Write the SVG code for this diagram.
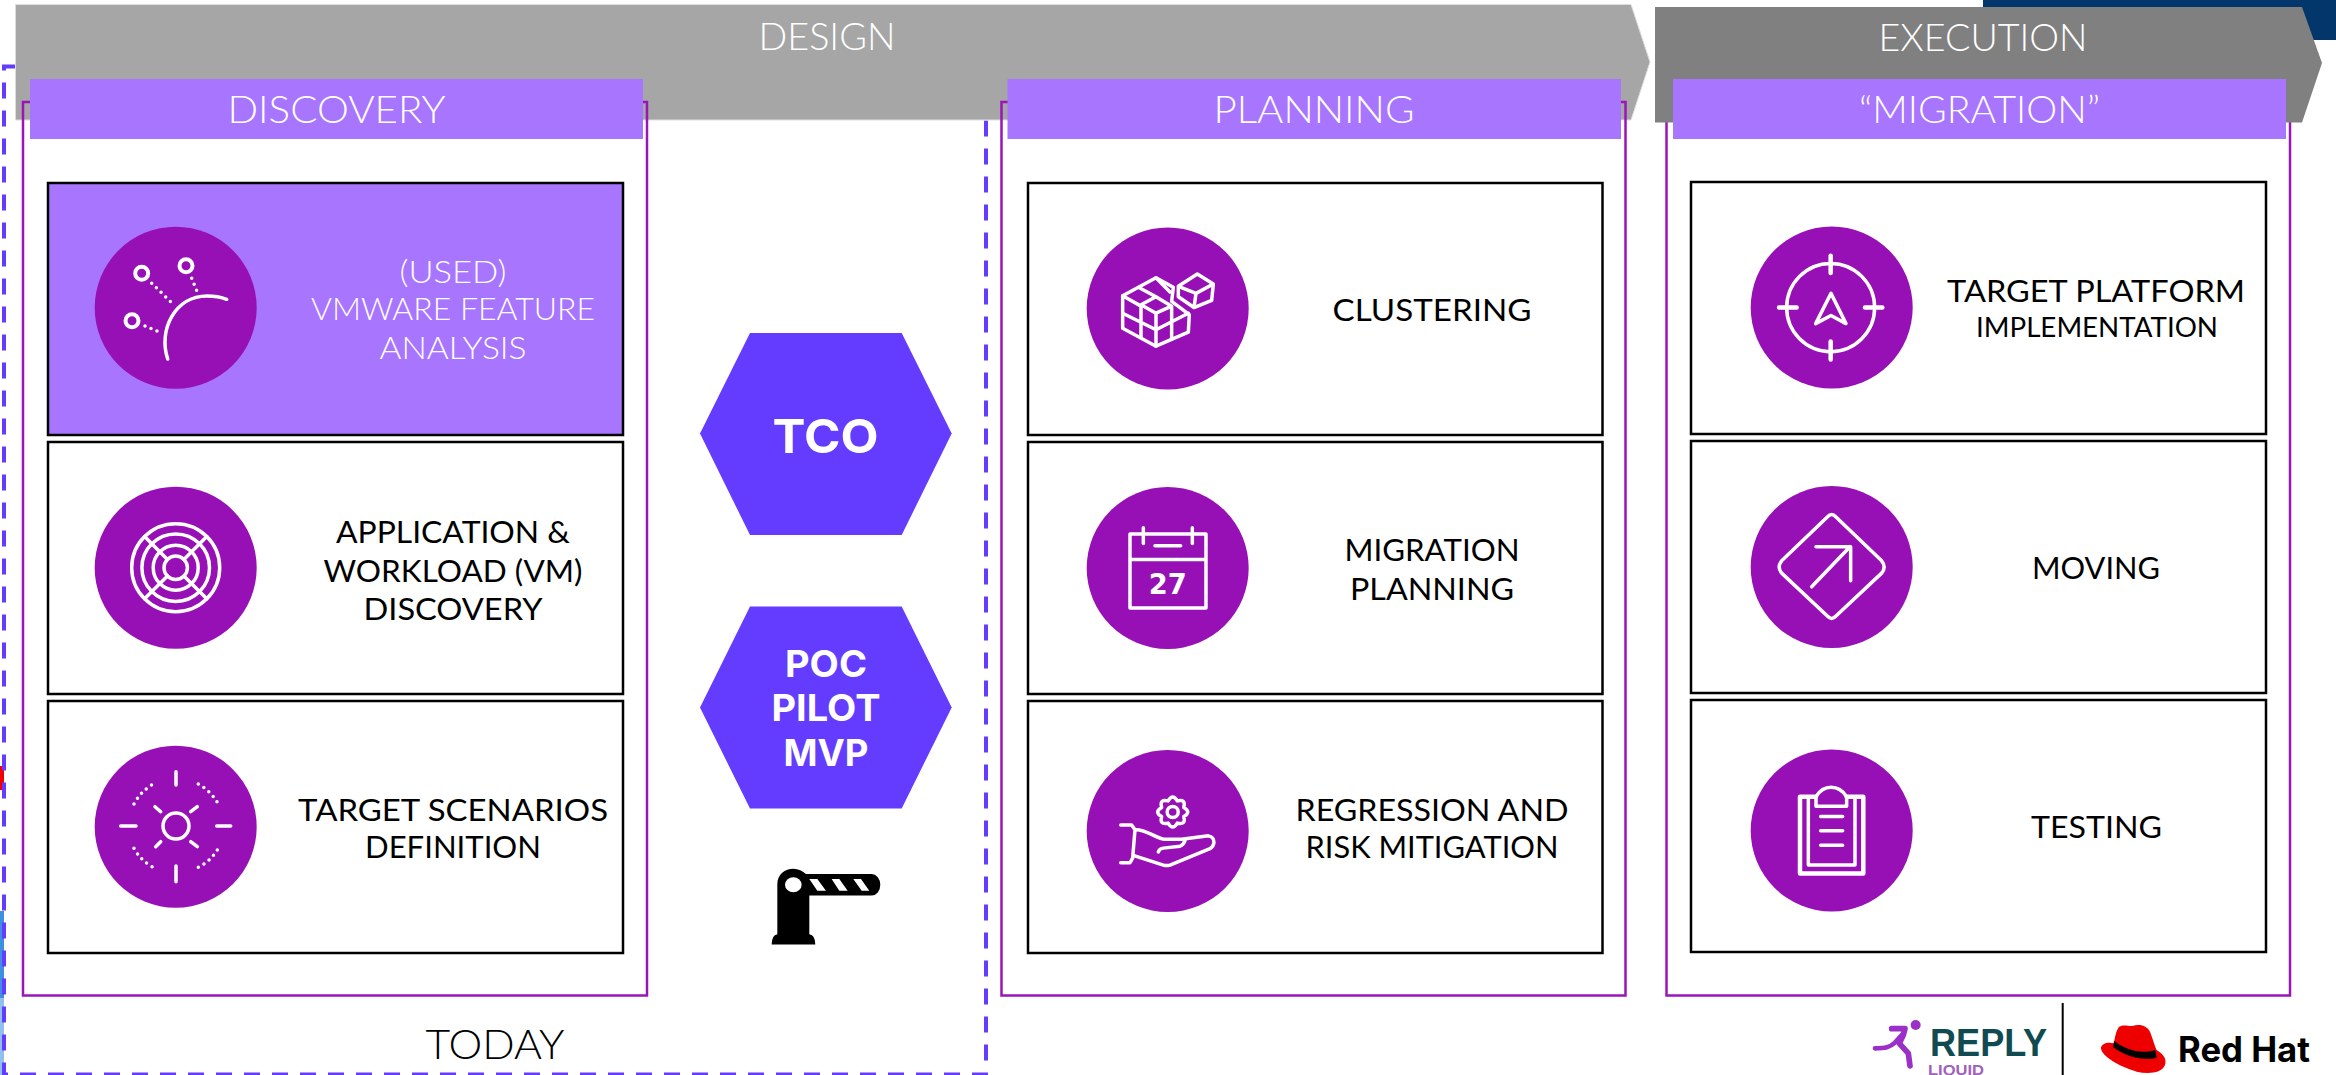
<svg xmlns="http://www.w3.org/2000/svg" width="2336" height="1075" viewBox="0 0 2336 1075">
<style>
text{font-family:"Lato","Liberation Sans",sans-serif;font-weight:400;text-anchor:middle}
.h{font-size:37px;fill:#fff;font-weight:300}
.t{font-size:31px;fill:#000}
.w{fill:#fff;font-weight:300}
.hx{font-family:"Inter","Liberation Sans",sans-serif;font-weight:700;fill:#fff}
.frame{fill:none;stroke:#9a14b8;stroke-width:2.5}
.box{fill:#fff;stroke:#000;stroke-width:2.5}
.head{fill:#a875ff}
.disc{fill:#9610b6}
.ic{fill:none;stroke:#fff;stroke-width:3.5;stroke-linecap:round;stroke-linejoin:round;vector-effect:non-scaling-stroke}
.ic *{vector-effect:non-scaling-stroke}
.dots{stroke-dasharray:0 6.5}
.hex{fill:#643cff}
</style>
<g id="edge-marks">
<rect x="1983" y="0" width="353" height="40" fill="#03366a"/>
<rect x="0" y="766" width="4" height="24" fill="#e00"/>
<rect x="0" y="911" width="4" height="87" fill="#3d8fdf"/>
<rect x="0" y="998" width="4" height="77" fill="#90c0f0"/>
</g>
<rect id="today-zone" x="4" y="66.500" width="982" height="1008" fill="none" stroke="#643cff" stroke-width="4" stroke-dasharray="16 12"/>
<g id="design">
<path d="M15.500 4.500H1631L1650 62L1631 120H15.500Z" fill="#a6a6a6" stroke="#ddd" stroke-width="1"/>
<text class="h" x="827" y="50" textLength="137" lengthAdjust="spacingAndGlyphs">DESIGN</text>
</g>
<g id="frame-discovery"><rect class="frame" x="23" y="102" width="624" height="893.500"/></g>
<g id="frame-planning"><rect class="frame" x="1001.500" y="102" width="624" height="893.500"/></g>
<g id="frame-migration"><rect class="frame" x="1666.500" y="102" width="623.500" height="893.500"/></g>
<g id="execution">
<path d="M1655 7H2302L2322 63L2302 122.500H1655Z" fill="#808080"/>
<text class="h" x="1983" y="50.500" textLength="209" lengthAdjust="spacingAndGlyphs">EXECUTION</text>
</g>
<g id="head-discovery"><rect class="head" x="30" y="79" width="613" height="60"/><text class="h" x="336.500" y="122.500" textLength="218" lengthAdjust="spacingAndGlyphs">DISCOVERY</text></g>
<g id="head-planning"><rect class="head" x="1007.500" y="79" width="613.500" height="60"/><text class="h" x="1314" y="122.500" textLength="201" lengthAdjust="spacingAndGlyphs">PLANNING</text></g>
<g id="head-migration"><rect class="head" x="1673" y="79" width="613" height="60"/><text class="h" x="1979.500" y="122.500" textLength="241" lengthAdjust="spacingAndGlyphs">“MIGRATION”</text></g>

<g id="used-vmware">
<rect x="48" y="183" width="575" height="252" fill="#a875ff" stroke="#000" stroke-width="2.500"/>
<circle class="disc" cx="175.700" cy="307.700" r="81"/>
<g class="ic">
<circle cx="141.700" cy="273.300" r="6.500" stroke-width="4"/><circle cx="186" cy="265.700" r="6.500" stroke-width="4"/><circle cx="132" cy="320.700" r="6.500" stroke-width="4"/>
<path d="M167.700 359C158 330 175 296 207 296Q218 296 226.700 299.300"/>
<path class="dots" d="M151.700 283.300L171.700 302.700M191.700 278.300L196.700 290.700M145 326L158.300 331.700" stroke-width="3.500"/>
</g>
<text class="w" style="font-size:31px" x="453" y="282.500" textLength="107" lengthAdjust="spacingAndGlyphs">(USED)</text>
<text class="w" style="font-size:31px" x="453" y="320" textLength="284" lengthAdjust="spacingAndGlyphs">VMWARE FEATURE</text>
<text class="w" style="font-size:31px" x="453" y="359" textLength="147" lengthAdjust="spacingAndGlyphs">ANALYSIS</text>
</g>
<g id="application-discovery">
<rect class="box" x="48" y="442" width="575" height="252"/>
<circle class="disc" cx="175.700" cy="567.700" r="81"/>
<g class="ic" stroke-width="3">
<circle cx="175.700" cy="567.700" r="44"/><circle cx="175.700" cy="567.700" r="33.800"/><circle cx="175.700" cy="567.700" r="22.500"/><circle cx="175.700" cy="567.700" r="11.700"/>
<path d="M183.900 559.500L206.800 536.600M167.500 559.500L144.600 536.600M183.900 575.900L206.800 598.800M167.500 575.900L144.600 598.800"/>
</g>
<text class="t" x="453" y="542.500" textLength="234" lengthAdjust="spacingAndGlyphs">APPLICATION &amp;</text>
<text class="t" x="453" y="581.500" textLength="259" lengthAdjust="spacingAndGlyphs">WORKLOAD (VM)</text>
<text class="t" x="453" y="619.500" textLength="179" lengthAdjust="spacingAndGlyphs">DISCOVERY</text>
</g>
<g id="target-scenarios">
<rect class="box" x="48" y="701" width="575" height="252"/>
<circle class="disc" cx="175.700" cy="826.700" r="81"/>
<g class="ic">
<circle cx="176" cy="826" r="13"/>
<path d="M176 771.700V785M176 866V881.700M120.700 826H136M216.700 826H230.700M155 806.700L160.700 811.700M197.300 806.700L190.700 811.700M155.700 846.700L160.700 841.700M197.300 846.700L190.700 841.700"/>
<path class="dots" stroke-width="3.500" d="M134 804Q141 791 153.300 784M198.300 784Q211 791 218.300 804M134 848.300Q141 861 153.300 867.300M198.300 867.300Q211 861 218.300 848.300"/>
</g>
<text class="t" x="453" y="820.500" textLength="310" lengthAdjust="spacingAndGlyphs">TARGET SCENARIOS</text>
<text class="t" x="453" y="858" textLength="176" lengthAdjust="spacingAndGlyphs">DEFINITION</text>
</g>

<g id="tco"><path class="hex" d="M750 333H901.700L951.700 433.500L901.700 535H750L700 433.500Z"/><text class="hx" style="font-size:47px" x="825.500" y="452.500" textLength="106" lengthAdjust="spacingAndGlyphs">TCO</text></g>
<g id="poc"><path class="hex" d="M750 606.500H901.700L951.700 707.500L901.700 808.500H750L700 707.500Z"/>
<text class="hx" style="font-size:37px" x="826" y="676.500" textLength="82" lengthAdjust="spacingAndGlyphs">POC</text>
<text class="hx" style="font-size:37px" x="826" y="721" textLength="109" lengthAdjust="spacingAndGlyphs">PILOT</text>
<text class="hx" style="font-size:37px" x="826" y="765.500" textLength="85" lengthAdjust="spacingAndGlyphs">MVP</text></g>
<g id="barrier" transform="translate(680 320) scale(.3333 .415)">
<path d="M292 1480V1360C292 1335 315 1322 340 1322C355 1322 368 1328 378 1335H575A26 26 0 0 1 575 1387H388V1480Q406 1482 406 1505H275Q275 1482 292 1480Z"/>
<ellipse cx="340" cy="1361" rx="25" ry="18" fill="#fff"/>
<path fill="#fff" d="M388 1347H412L438 1375H412ZM455 1347H478L503 1375H478ZM520 1347H543L568 1375H545Z"/>
</g>

<g id="clustering">
<rect class="box" x="1028" y="183" width="574.500" height="252"/>
<circle class="disc" cx="1167.700" cy="308.500" r="81"/>
<g class="ic" transform="translate(1060 200) scale(.3333 .4717)">
<path d="M188 203L288 165L340 185L335 215L388 243L385 280L288 310L188 272Z"/>
<path d="M288 240V310M243 222L288 205L335 225L288 240ZM188 203L243 225V290M188 240L288 275L385 240M238 186L288 205M288 165L330 195M335 225V295"/>
<path d="M355 183L412 157L460 178L455 213L402 228L355 205ZM355 183L408 198L460 178M408 198L402 228"/>
</g>
<text class="t" x="1432" y="320.500" textLength="199" lengthAdjust="spacingAndGlyphs">CLUSTERING</text>
</g>
<g id="migration-planning">
<rect class="box" x="1028" y="442" width="574.500" height="252"/>
<circle class="disc" cx="1167.700" cy="568" r="81"/>
<g class="ic" transform="translate(1060 200) scale(.3333 .4717)" stroke-width="4">
<path d="M210 708H438V865H210ZM210 762H438M285 733H362M250 695V728M397 695V728"/>
</g>
<text class="w" style="font-family:'DejaVu Sans',sans-serif;font-weight:700;font-size:28px" x="1167.700" y="594" textLength="38" lengthAdjust="spacingAndGlyphs">27</text>
<text class="t" x="1432" y="560.500" textLength="175" lengthAdjust="spacingAndGlyphs">MIGRATION</text>
<text class="t" x="1432" y="599.500" textLength="164" lengthAdjust="spacingAndGlyphs">PLANNING</text>
</g>
<g id="regression">
<rect class="box" x="1028" y="701" width="574.500" height="252"/>
<circle class="disc" cx="1167.700" cy="831" r="81"/>
<path class="ic" stroke-width="2.500" transform="translate(1172.700 812)" d="M11.100 -4.600Q19 0 11.100 4.600Q13.400 13.400 4.600 11.100Q0 19 -4.600 11.100Q-13.400 13.400 -11.100 4.600Q-19 0 -11.100 -4.600Q-13.400 -13.400 -4.600 -11.100Q0 -19 4.600 -11.100Q13.400 -13.400 11.100 -4.600Z"/>
<circle class="ic" stroke-width="2.500" cx="1172.700" cy="812" r="5.500"/>
<g class="ic" stroke-width="2.500" transform="translate(1060 200) scale(.3333 .4717)">
<path d="M182 1325H215L225 1335L218 1395L210 1405H182"/>
<path d="M228 1335C260 1335 280 1350 310 1355H365L445 1348Q462 1350 462 1362Q460 1372 450 1375L330 1410Q318 1412 310 1410L222 1390"/>
<path d="M295 1382Q298 1375 310 1374L360 1370Q372 1366 375 1358"/>
</g>
<text class="t" x="1432" y="820.500" textLength="273" lengthAdjust="spacingAndGlyphs">REGRESSION AND</text>
<text class="t" x="1432" y="858" textLength="253" lengthAdjust="spacingAndGlyphs">RISK MITIGATION</text>
</g>

<g id="target-platform">
<rect class="box" x="1691" y="182" width="575" height="252"/>
<circle class="disc" cx="1831.700" cy="307.500" r="81"/>
<g class="ic" transform="translate(1730 200) scale(.3333 .4717)">
<ellipse cx="302" cy="228" rx="132" ry="93.500"/>
<path d="M302 118V155M302 300V338M147 228H200M405 228H457" stroke-width="4.500"/>
<path d="M303 198L348 262L303 245L257 262Z"/>
</g>
<text class="t" x="2096" y="301.500" textLength="298" lengthAdjust="spacingAndGlyphs">TARGET PLATFORM</text>
<text class="t" style="font-size:27px" x="2097" y="336.500" textLength="242" lengthAdjust="spacingAndGlyphs">IMPLEMENTATION</text>
</g>
<g id="moving">
<rect class="box" x="1691" y="441" width="575" height="252"/>
<circle class="disc" cx="1831.700" cy="567" r="81"/>
<g class="ic" transform="translate(1730 200) scale(.3333 .4717)">
<path d="M292 672Q305 662 318 672L455 765Q470 778 455 791L318 882Q305 892 292 882L155 791Q140 778 155 765Z"/>
<path d="M245 820L360 735M258 735H362V807"/>
</g>
<text class="t" x="2096" y="578.500" textLength="128" lengthAdjust="spacingAndGlyphs">MOVING</text>
</g>
<g id="testing">
<rect class="box" x="1691" y="700" width="575" height="252"/>
<circle class="disc" cx="1831.700" cy="830.500" r="81"/>
<g class="ic" transform="translate(1730 200) scale(.3333 .4717)">
<path d="M258 1265H210V1428H400V1265H350" stroke-width="4.500"/>
<path d="M235 1270V1410H375V1270"/>
<path d="M258 1285V1265Q275 1245 303 1245Q332 1245 350 1265V1285Z"/>
<path d="M272 1307H338M272 1337H338M272 1368H338"/>
</g>
<text class="t" x="2096.500" y="837.500" textLength="131" lengthAdjust="spacingAndGlyphs">TESTING</text>
</g>

<text id="today" style="font-size:42px;font-weight:300" x="495" y="1059" textLength="139" lengthAdjust="spacingAndGlyphs">TODAY</text>

<g id="logo-reply">
<g transform="translate(1840 960) scale(.3333)" fill="none" stroke="#9b30c8" stroke-linecap="round" stroke-linejoin="round">
<circle cx="227" cy="195" r="15" fill="#9b30c8" stroke="none"/>
<path stroke-width="14" d="M105 265C135 265 150 262 165 248L190 220"/>
<path stroke-width="17" d="M155 206H195L190 225L178 250L205 280L210 318"/>
</g>
<text x="1988.500" y="1056" style="font-family:'Liberation Sans',sans-serif;font-weight:700;font-size:39px" fill="#0f4b50" textLength="117" lengthAdjust="spacingAndGlyphs">REPLY</text>
<text x="1956" y="1075" style="font-family:'Liberation Sans',sans-serif;font-weight:700;font-size:14px" fill="#a060c0" textLength="56" lengthAdjust="spacingAndGlyphs">LIQUID</text>
</g>
<path id="logo-divider" d="M2062.700 1003V1075" stroke="#000" stroke-width="2"/>
<g id="logo-redhat">
<g transform="translate(1840 960) scale(.3333)">
<path fill="#e00" d="M838 200C850 192 870 200 880 197C895 192 920 195 930 215C938 235 945 260 950 270C975 285 980 300 975 315C965 340 925 343 890 335C840 320 785 290 783 265C783 250 805 245 822 250C825 225 832 205 838 200Z"/>
<path fill="#000" d="M822 242C850 265 900 285 946 270L950 293C900 305 850 285 820 262Z"/>
</g>
<text x="2244" y="1061.500" style="font-family:'Inter','Liberation Sans',sans-serif;font-weight:700;font-size:35px" fill="#000" textLength="132" lengthAdjust="spacingAndGlyphs">Red Hat</text>
</g>
</svg>
